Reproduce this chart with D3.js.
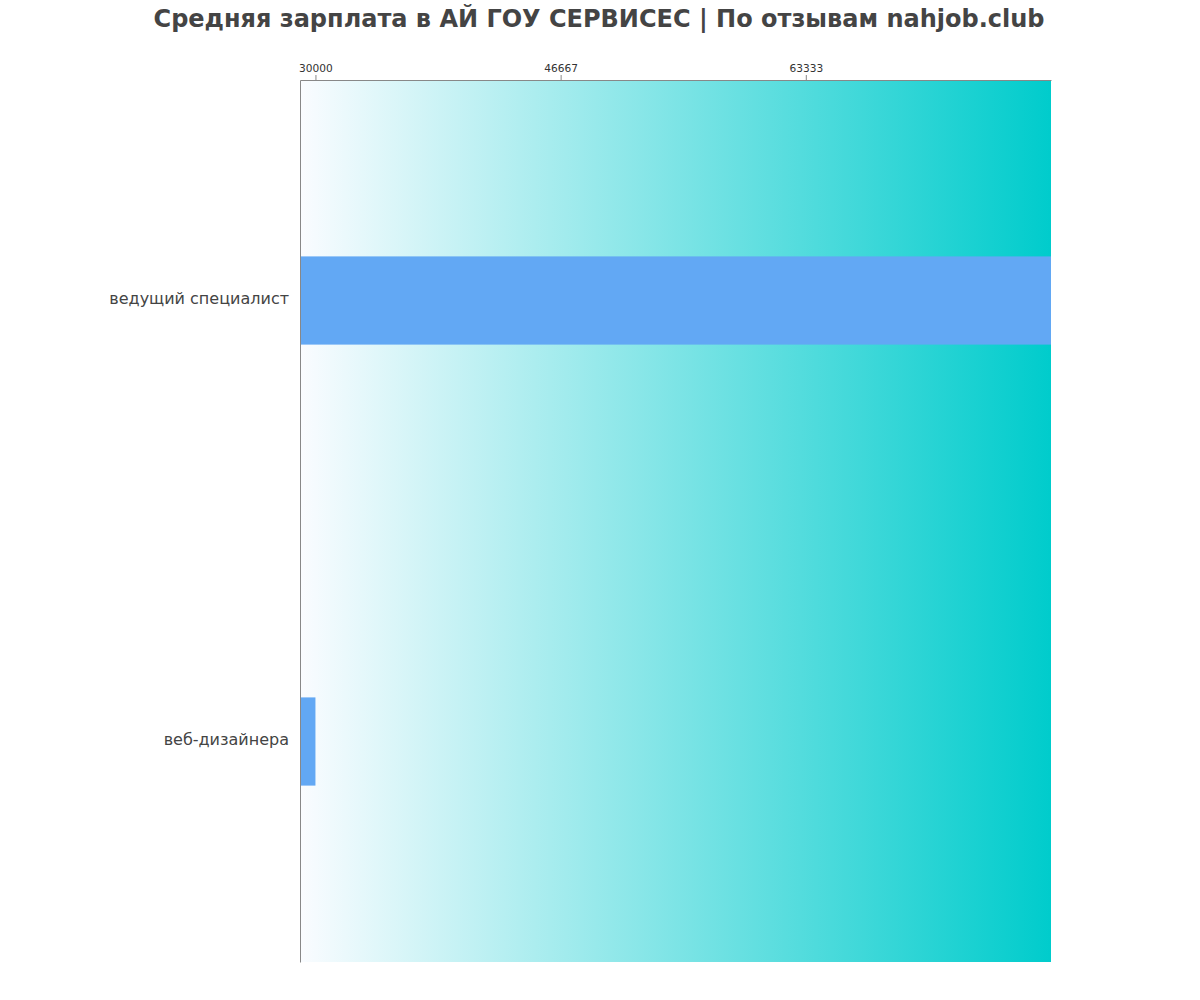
<!DOCTYPE html>
<html><head><meta charset="utf-8">
<script src="https://cdn.jsdelivr.net/npm/d3@7"></script>
<style>body{margin:0;background:#fff;}</style>
</head><body>
<svg id="chart" width="1200" height="1000"></svg>
<script>
const titleText = "Средняя зарплата в АЙ ГОУ СЕРВИСЕС | По отзывам nahjob.club";
const categories = ["ведущий специалист", "веб-дизайнера"];
const values = [80000, 30000];
const tickValues = [30000, 46667, 63333];
const domainX = [28950, 80000];

const svg = d3.select("#chart");
const m = {left: 300, right: 1051, top: 80, bottom: 962};

const defs = svg.append("defs");
const grad = defs.append("linearGradient").attr("id", "bg").attr("x1", "0%").attr("x2", "100%").attr("y1", "0%").attr("y2", "0%");
grad.append("stop").attr("offset", "0%").attr("stop-color", "#fafcff");
grad.append("stop").attr("offset", "100%").attr("stop-color", "#00cccc");

const x = d3.scaleLinear().domain(domainX).range([m.left, m.right]);
const y = d3.scaleBand().domain(categories).range([m.top, m.bottom]).paddingInner(0.8).paddingOuter(0.4);

svg.append("rect").attr("x", m.left).attr("y", m.top).attr("width", m.right - m.left).attr("height", m.bottom - m.top).attr("fill", "url(#bg)");

svg.selectAll("rect.bar").data(categories).enter().append("rect").attr("class", "bar")
  .attr("x", x(domainX[0])).attr("y", d => y(d))
  .attr("width", (d, i) => x(values[i]) - x(domainX[0]))
  .attr("height", y.bandwidth()).attr("fill", "#62a8f4");

const xAxis = svg.append("g").attr("transform", `translate(0,${m.top})`)
  .call(d3.axisTop(x).tickValues(tickValues).tickSize(5).tickSizeOuter(0).tickFormat(d3.format("d")));
xAxis.select(".domain").attr("stroke", "#888");
xAxis.selectAll(".tick line").attr("stroke", "#888");
xAxis.selectAll(".tick text").attr("fill", "#333").style("font-family", "DejaVu Sans").style("font-size", "10.6px");

const yAxis = svg.append("g").attr("transform", `translate(${m.left},0)`)
  .call(d3.axisLeft(y).tickSize(0).tickSizeOuter(0).tickPadding(11));
yAxis.select(".domain").attr("stroke", "#888");
yAxis.selectAll(".tick text").attr("fill", "#444").attr("dy", "0.2em").style("font-family", "DejaVu Sans").style("font-size", "16px");

svg.append("text").attr("x", 599).attr("y", 27).attr("text-anchor", "middle")
  .style("font-family", "DejaVu Sans").style("font-weight", "bold").style("font-size", "24px")
  .attr("fill", "#444").text(titleText);
</script>
</body></html>
